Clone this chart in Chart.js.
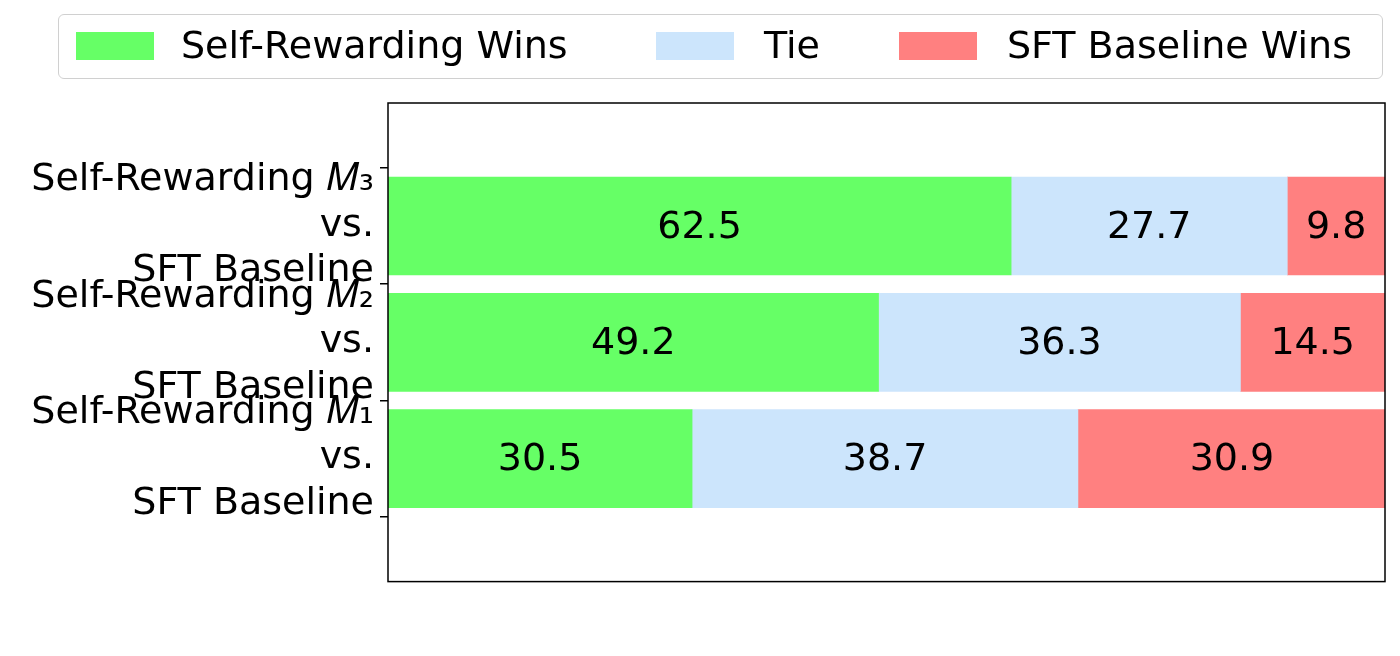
<!DOCTYPE html>
<html>
<head>
<meta charset="utf-8">
<script src="https://cdn.jsdelivr.net/npm/chart.js@4"></script>
<style>
  html, body { margin: 0; padding: 0; background: #fff; }
  #wrap { position: relative; width: 1400px; height: 656px; }
  #legend { position: absolute; left: 58px; top: 14px; width: 1325px; height: 65px;
    border: 1.5px solid #d0d0d0; border-radius: 6px; box-sizing: border-box; }
  .sw { position: absolute; top: 17px; width: 78px; height: 28px; }
  .lt { position: absolute; top: 8px; font: 38px "DejaVu Sans"; color: #000; white-space: nowrap; line-height: 44px; }
</style>
</head>
<body>
<div id="wrap">
  <canvas id="chartCanvas"></canvas>
  <div id="legend"></div>
</div>
<script>
const categories = [
  ['Self-Rewarding 𝑀₃', 'vs.', 'SFT Baseline'],
  ['Self-Rewarding 𝑀₂', 'vs.', 'SFT Baseline'],
  ['Self-Rewarding 𝑀₁', 'vs.', 'SFT Baseline']
];
const seriesNames = ['Self-Rewarding Wins', 'Tie', 'SFT Baseline Wins'];
const selfWins = [62.5, 49.2, 30.5];
const ties = [27.7, 36.3, 38.7];
const sftWins = [9.8, 14.5, 30.9];
const colors = ['#66ff66', '#cce5fc', '#ff8080'];

const font = 'DejaVu Sans';

// legend built by hand so the box matches
const legendPos = [[17, 122], [597, 705], [840, 948]];
const legendEl = document.getElementById('legend');
seriesNames.forEach((name, i) => {
  const sw = document.createElement('div');
  sw.className = 'sw';
  sw.style.left = legendPos[i][0] + 'px';
  sw.style.background = colors[i];
  legendEl.appendChild(sw);
  const t = document.createElement('div');
  t.className = 'lt';
  t.style.left = legendPos[i][1] + 'px';
  t.textContent = name;
  legendEl.appendChild(t);
});

const barLabels = {
  id: 'barLabels',
  afterDatasetsDraw(chart) {
    const ctx = chart.ctx;
    ctx.save();
    ctx.font = `38px "${font}"`;
    ctx.fillStyle = '#000';
    ctx.textAlign = 'center';
    ctx.textBaseline = 'middle';
    chart.data.datasets.forEach((ds, i) => {
      chart.getDatasetMeta(i).data.forEach((bar, j) => {
        ctx.fillText(ds.data[j].x.toFixed(1), (bar.x + bar.base) / 2, bar.y + 2);
      });
    });
    ctx.restore();
  }
};

const frame = {
  id: 'frame',
  afterDraw(chart) {
    const ctx = chart.ctx;
    const a = chart.chartArea;
    ctx.save();
    ctx.strokeStyle = '#000';
    ctx.lineWidth = 1.5;
    ctx.strokeRect(a.left, a.top, a.right - a.left, a.bottom - a.top);
    ctx.restore();
  }
};

const toPoints = arr => arr.map((v, i) => ({ x: v, y: i }));

new Chart(document.getElementById('chartCanvas'), {
  type: 'bar',
  data: {
    datasets: [
      { label: seriesNames[0], data: toPoints(selfWins), backgroundColor: colors[0] },
      { label: seriesNames[1], data: toPoints(ties), backgroundColor: colors[1] },
      { label: seriesNames[2], data: toPoints(sftWins), backgroundColor: colors[2] }
    ]
  },
  options: {
    indexAxis: 'y',
    responsive: true,
    maintainAspectRatio: false,
    animation: false,
    layout: { padding: { top: 103, right: 15, bottom: 16, left: 0 } },
    datasets: { bar: { barThickness: 98 } },
    plugins: { tooltip: { enabled: false }, legend: { display: false } },
    scales: {
      x: { stacked: true, min: 0, max: 100, display: false },
      y: {
        type: 'linear',
        stacked: true,
        reverse: true,
        min: -0.372,
        max: 2.372,
        afterBuildTicks(axis) { axis.ticks = [0, 1, 2].map(v => ({ value: v })); },
        grid: { drawOnChartArea: false, drawTicks: true, tickLength: 8, color: '#000', lineWidth: 1.5 },
        border: { display: false },
        ticks: {
          color: '#000',
          font: { family: font, size: 38 },
          padding: 6,
          crossAlign: 'near',
          callback: v => categories[v]
        },
        afterFit(axis) { axis.width = 388; }
      }
    }
  },
  plugins: [barLabels, frame]
});
</script>
</body>
</html>
